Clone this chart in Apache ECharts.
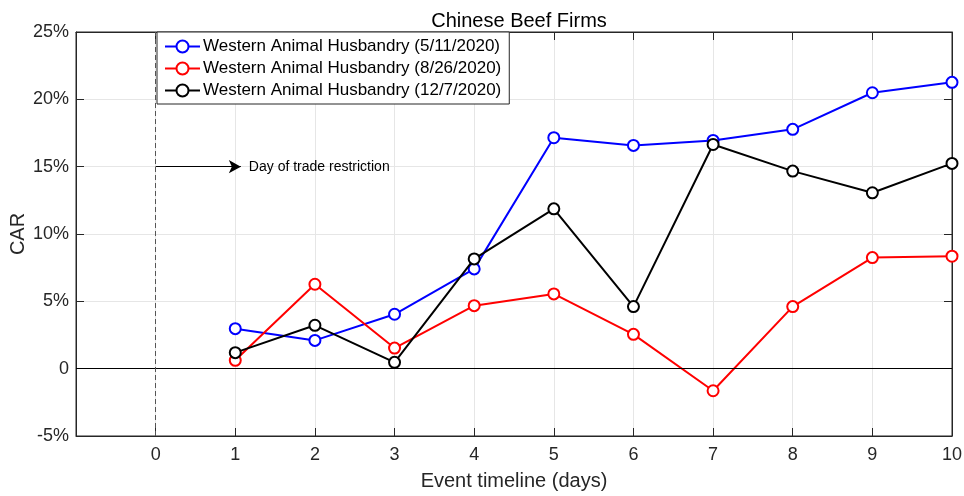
<!DOCTYPE html>
<html>
<head>
<meta charset="utf-8">
<script src="https://cdn.jsdelivr.net/npm/echarts@6/dist/echarts.min.js"></script>
<style>html,body{margin:0;padding:0;background:#fff;}#chart{width:964px;height:496px;}</style>
</head>
<body>
<div id="chart"></div>
<script>
const days = [1, 2, 3, 4, 5, 6, 7, 8, 9, 10];
const seriesNames = [
  'Western Animal Husbandry (5/11/2020)',
  'Western Animal Husbandry (8/26/2020)',
  'Western Animal Husbandry (12/7/2020)'
];
const carMay = [2.97, 2.10, 4.04, 7.41, 17.15, 16.58, 16.95, 17.77, 20.49, 21.26];
const carAug = [0.62, 6.27, 1.53, 4.68, 5.55, 2.55, -1.64, 4.61, 8.25, 8.35];
const carDec = [1.19, 3.22, 0.47, 8.15, 11.87, 4.61, 16.65, 14.67, 13.06, 15.24];
const xTickValues = [0, 1, 2, 3, 4, 5, 6, 7, 8, 9, 10];
const yTickLabels = ['-5%', '0', '5%', '10%', '15%', '20%', '25%'];
const eventDay = 0;
const annotationText = 'Day of trade restriction';
const annotationY = 15;
const annotationArrowEnd = 1.07;

const colors = ['#0000ff', '#ff0000', '#000000'];
const dataSets = [carMay, carAug, carDec];
const font = 'Liberation Sans, Arial, Helvetica, sans-serif';
const tickColor = '#262626';

const chart = echarts.init(document.getElementById('chart'), null, {renderer: 'canvas'});

const series = dataSets.map((vals, i) => ({
  name: seriesNames[i],
  type: 'line',
  xAxisIndex: 0,
  yAxisIndex: 0,
  data: days.map((d, j) => [d, vals[j]]),
  symbol: 'emptyCircle',
  symbolSize: 11,
  showSymbol: true,
  color: colors[i],
  lineStyle: {width: 2, color: colors[i]},
  itemStyle: {color: colors[i], borderColor: colors[i], borderWidth: 2},
  emphasis: {disabled: true},
  z: 3 + i
}));

series.push({
  name: 'refs',
  type: 'line',
  data: [],
  silent: true,
  z: 2,
  markLine: {
    silent: true,
    symbol: ['none', 'none'],
    animation: false,
    label: {show: false},
    data: [
      [{coord: [-1, 0], lineStyle: {color: '#000', width: 1, type: 'solid'}}, {coord: [10, 0]}],
      [{coord: [eventDay, -5], lineStyle: {color: '#555', width: 1, type: [5, 3]}}, {coord: [eventDay, 25]}]
    ]
  }
});
series.push({
  name: 'annot',
  type: 'line',
  data: [],
  silent: true,
  z: 2,
  markLine: {
    silent: true,
    animation: false,
    symbol: ['none', 'arrow'],
    symbolSize: [10, 12],
    lineStyle: {color: '#000', width: 1, type: 'solid'},
    label: {
      show: true,
      position: 'end',
      distance: 8,
      formatter: annotationText,
      color: '#000',
      fontFamily: font,
      fontSize: 14
    },
    data: [
      [{coord: [eventDay, annotationY]}, {coord: [annotationArrowEnd, annotationY]}]
    ]
  }
});

const option = {
  animation: false,
  backgroundColor: '#fff',
  title: {
    text: 'Chinese Beef Firms',
    left: 514,
    textAlign: 'center',
    top: 6,
    textStyle: {fontFamily: font, fontSize: 20, fontWeight: 'normal', color: '#000'}
  },
  legend: {
    data: seriesNames,
    orient: 'vertical',
    left: 157,
    top: 32,
    padding: [6, 8, 5, 7],
    itemWidth: 35,
    itemHeight: 15,
    itemGap: 5,
    backgroundColor: '#fff',
    borderColor: '#262626',
    borderWidth: 1,
    borderRadius: 0,
    textStyle: {fontFamily: font, fontSize: 17, color: '#000', padding: [0, 0, 0, -2]},
    itemStyle: {borderWidth: 2},
    z: 10
  },
  grid: {
    left: 76, right: 12, top: 32, bottom: 60,
    outerBoundsMode: 'none',
    show: true, borderColor: '#262626', borderWidth: 1, backgroundColor: 'transparent',
    containLabel: false
  },
  xAxis: [{
    type: 'value', min: -1, max: 10, interval: 1,
    name: 'Event timeline (days)', nameLocation: 'middle', nameGap: 35,
    nameMoveOverlap: false,
    nameTextStyle: {fontFamily: font, fontSize: 20, color: tickColor},
    axisLine: {show: true, onZero: false, lineStyle: {color: tickColor}},
    axisTick: {show: true, inside: true, length: 8, lineStyle: {color: tickColor}},
    axisLabel: {
      margin: 10, fontFamily: font, fontSize: 18, color: tickColor,
      formatter: v => (xTickValues.indexOf(v) >= 0 ? String(v) : '')
    },
    splitLine: {show: true, lineStyle: {color: '#e6e6e6', width: 1}}
  }, {
    type: 'value', min: -1, max: 10, interval: 1, position: 'top',
    axisLine: {show: true, onZero: false, lineStyle: {color: tickColor}},
    axisTick: {show: true, inside: true, length: 8, lineStyle: {color: tickColor}},
    axisLabel: {show: false},
    splitLine: {show: false}
  }],
  yAxis: [{
    type: 'value', min: -5, max: 25, interval: 5,
    name: 'CAR', nameLocation: 'middle', nameGap: 48, nameRotate: 90,
    nameMoveOverlap: false,
    nameTextStyle: {fontFamily: font, fontSize: 20, color: tickColor},
    axisLine: {show: true, onZero: false, lineStyle: {color: tickColor}},
    axisTick: {show: true, inside: true, length: 8, lineStyle: {color: tickColor}},
    axisLabel: {
      margin: 7, fontFamily: font, fontSize: 18, color: tickColor,
      formatter: v => yTickLabels[Math.round((v + 5) / 5)]
    },
    splitLine: {show: true, lineStyle: {color: '#e6e6e6', width: 1}}
  }, {
    type: 'value', min: -5, max: 25, interval: 5, position: 'right',
    axisLine: {show: true, onZero: false, lineStyle: {color: tickColor}},
    axisTick: {show: true, inside: true, length: 8, lineStyle: {color: tickColor}},
    axisLabel: {show: false},
    splitLine: {show: false}
  }],
  series: series
};
chart.setOption(option);
</script>
</body>
</html>
